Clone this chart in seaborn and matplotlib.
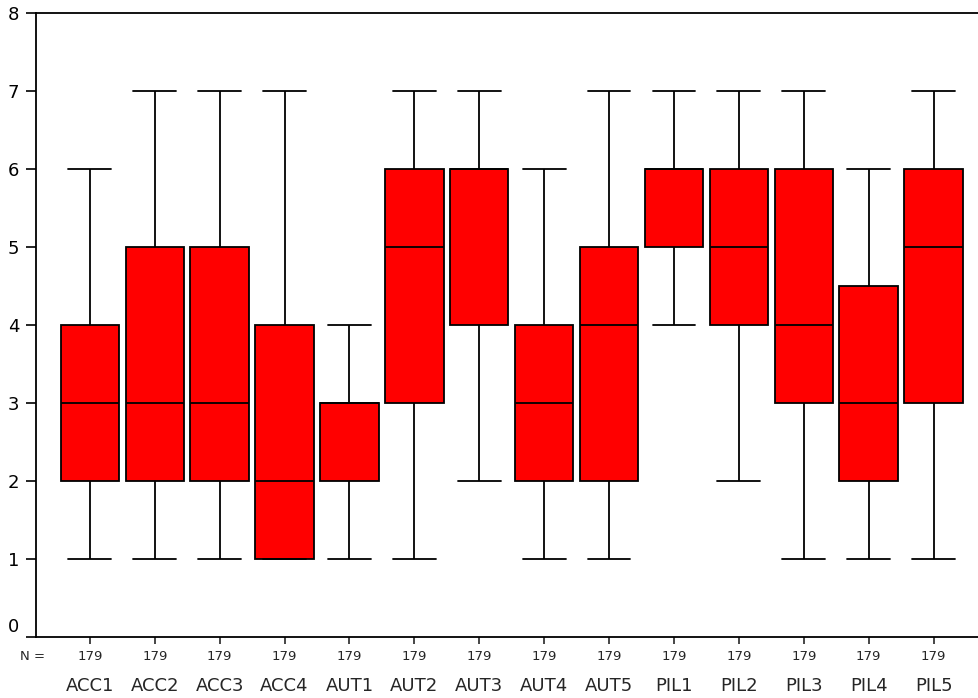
import matplotlib
matplotlib.use("Agg")
import matplotlib.pyplot as plt
import matplotlib.transforms as mtransforms
import seaborn as sns
import pandas as pd

# five-number summaries (min, q1, median, q3, max)
items = ["ACC1", "ACC2", "ACC3", "ACC4", "AUT1", "AUT2", "AUT3",
         "AUT4", "AUT5", "PIL1", "PIL2", "PIL3", "PIL4", "PIL5"]
mins = [1, 1, 1, 1, 1, 1, 2, 1, 1, 4, 2, 1, 1, 1]
q1s = [2, 2, 2, 1, 2, 3, 4, 2, 2, 5, 4, 3, 2, 3]
meds = [3, 3, 3, 2, 3, 5, 6, 3, 4, 6, 5, 4, 3, 5]
q3s = [4, 5, 5, 4, 3, 6, 6, 4, 5, 6, 6, 6, 4.5, 6]
maxs = [6, 7, 7, 7, 4, 7, 7, 6, 7, 7, 7, 7, 6, 7]
ns = [179] * len(items)

rows = []
for i, name in enumerate(items):
    for v in (mins[i], q1s[i], meds[i], q3s[i], maxs[i]):
        rows.append({"item": name, "value": v})
df = pd.DataFrame(rows)

sns.set_style("white")
plt.rcParams["font.family"] = ["DejaVu Sans"]

fig = plt.figure(figsize=(9.79, 6.98), dpi=100)
ax = fig.add_axes([36 / 979, 1 - 637 / 698, 1 - 36 / 979, (637 - 13) / 698])

line_kw = dict(color="black", linewidth=1.3)
sns.boxplot(data=df, x="item", y="value", order=items, ax=ax,
            whis=(0, 100), width=0.9, color="#ff0000", saturation=1,
            linecolor="black", linewidth=1.3,
            boxprops=dict(facecolor="#ff0000", edgecolor="black"),
            medianprops=line_kw, whiskerprops=line_kw, capprops=line_kw,
            capwidths=0.66)

ax.set_xlim(-0.83, 13.7)
ax.set_ylim(0, 8)
ax.set_yticks(range(0, 9))
ax.tick_params(axis="y", labelsize=13, length=7, width=1.2, direction="out",
               left=True, pad=5, colors="black")
ax.tick_params(axis="x", length=5, width=1.2, direction="out", bottom=True,
               labelbottom=False)
ax.set_xlabel("")
ax.set_ylabel("")

# the "0" label sits a little above its tick in the original
zero_lbl = ax.get_yticklabels()[0]
zero_lbl.set_transform(zero_lbl.get_transform() +
                       mtransforms.ScaledTranslation(0, 12 / 100, fig.dpi_scale_trans))

for side in ["left", "bottom", "top"]:
    ax.spines[side].set_visible(True)
    ax.spines[side].set_color("black")
    ax.spines[side].set_linewidth(1.3)
ax.spines["right"].set_visible(False)

trans = mtransforms.blended_transform_factory(ax.transData, fig.transFigure)
for i, name in enumerate(items):
    ax.text(i, 1 - 657 / 698, str(ns[i]), transform=trans, ha="center",
            va="center", fontsize=9.5)
    ax.text(i, 1 - 686 / 698, name, transform=trans, ha="center",
            va="center", fontsize=13)
fig.text(20 / 979, 1 - 657 / 698, "N =", ha="left", va="center", fontsize=9.5)

fig.savefig("out.png", dpi=100)
